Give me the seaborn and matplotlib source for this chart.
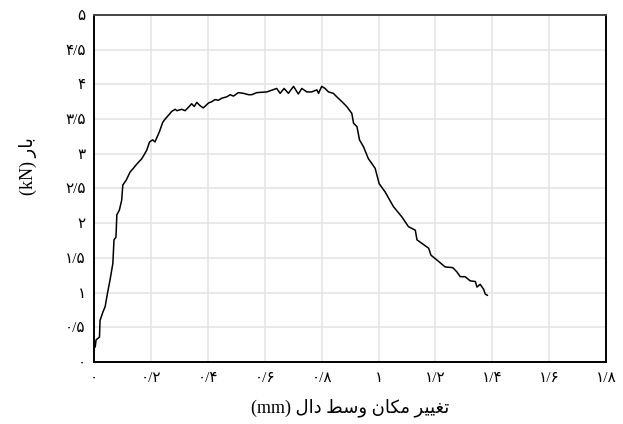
import matplotlib
matplotlib.use("Agg")
import matplotlib.pyplot as plt
import seaborn as sns
import pandas as pd

# Mid-span displacement (mm) and load (kN) of the slab test
displacement = [
    0.000, 0.004, 0.007, 0.019, 0.021, 0.031, 0.039, 0.047, 0.056, 0.066,
    0.070, 0.077, 0.080, 0.089, 0.097, 0.101, 0.113, 0.127, 0.138, 0.150,
    0.168, 0.185, 0.195, 0.206, 0.214, 0.230, 0.241, 0.250, 0.267, 0.273,
    0.285, 0.291, 0.308, 0.320, 0.332, 0.343, 0.352, 0.361, 0.373, 0.384,
    0.402, 0.414, 0.425, 0.437, 0.449, 0.467, 0.478, 0.490, 0.507, 0.525,
    0.543, 0.554, 0.572, 0.607, 0.642, 0.654, 0.668, 0.683, 0.701, 0.718,
    0.730, 0.748, 0.765, 0.783, 0.789, 0.800, 0.812, 0.824, 0.841, 0.853,
    0.871, 0.888, 0.906, 0.912, 0.924, 0.933, 0.947, 0.964, 0.988, 1.002,
    1.023, 1.052, 1.082, 1.105, 1.129, 1.135, 1.152, 1.176, 1.184, 1.205,
    1.234, 1.261, 1.275, 1.287, 1.304, 1.322, 1.340, 1.346, 1.357, 1.369,
    1.375, 1.383,
]
load = [
    0.20, 0.22, 0.32, 0.36, 0.60, 0.72, 0.80, 0.99, 1.18, 1.42,
    1.76, 1.80, 2.12, 2.19, 2.33, 2.55, 2.62, 2.74, 2.79, 2.85,
    2.93, 3.05, 3.17, 3.20, 3.17, 3.32, 3.45, 3.50, 3.58, 3.61,
    3.64, 3.62, 3.64, 3.62, 3.67, 3.72, 3.68, 3.74, 3.69, 3.66,
    3.73, 3.75, 3.78, 3.77, 3.80, 3.82, 3.85, 3.83, 3.88, 3.87,
    3.85, 3.85, 3.88, 3.89, 3.94, 3.87, 3.94, 3.87, 3.97, 3.86,
    3.94, 3.89, 3.89, 3.92, 3.87, 3.97, 3.94, 3.89, 3.87, 3.82,
    3.75, 3.68, 3.58, 3.44, 3.39, 3.20, 3.10, 2.93, 2.79, 2.57,
    2.45, 2.24, 2.09, 1.95, 1.90, 1.76, 1.71, 1.64, 1.54, 1.47,
    1.37, 1.36, 1.30, 1.23, 1.23, 1.17, 1.16, 1.08, 1.12, 1.05,
    0.98, 0.96,
]

x_ticks = [0.0, 0.2, 0.4, 0.6, 0.8, 1.0, 1.2, 1.4, 1.6, 1.8]
x_tick_labels = ["۰", "۰/۲", "۰/۴", "۰/۶", "۰/۸", "۱", "۱/۲", "۱/۴", "۱/۶", "۱/۸"]
y_ticks = [0.0, 0.5, 1.0, 1.5, 2.0, 2.5, 3.0, 3.5, 4.0, 4.5, 5.0]
y_tick_labels = ["۰", "۰/۵", "۱", "۱/۵", "۲", "۲/۵", "۳", "۳/۵", "۴", "۴/۵", "۵"]

# Axis titles: Arabic presentation forms laid out left to right
# (matplotlib draws glyphs in string order, without bidi or shaping)
w_taghyir = "\uFEAE\uFEF4\uFEF4\uFED0\uFE97"   # تغییر
w_makan = "\uFEE5\uFE8E\uFB91\uFEE3"           # مکان
w_vasat = "\uFEC2\uFEB3\uFEED"                 # وسط
w_dal = "\uFEDD\uFE8D\uFEA9"                   # دال
w_bar = "\uFEAD\uFE8E\uFE91"                   # بار
x_title = "(mm) " + " ".join([w_dal, w_vasat, w_makan, w_taghyir])
y_title = "(kN) " + w_bar

sns.set_theme(style="whitegrid")
fonts = ["Liberation Serif", "DejaVu Sans"]
plt.rcParams["font.family"] = fonts

df = pd.DataFrame({"disp": displacement, "load": load})

fig = plt.figure(figsize=(6.23, 4.24), dpi=100)
ax = fig.add_axes([0.151, 0.146, 0.822, 0.819])

sns.lineplot(data=df, x="disp", y="load", sort=False, estimator=None,
             color="black", linewidth=1.1, ax=ax)

ax.set_xlim(0, 1.8)
ax.set_ylim(0, 5)
ax.set_xticks(x_ticks)
ax.set_xticklabels(x_tick_labels, fontsize=11)
ax.set_yticks(y_ticks)
ax.set_yticklabels(y_tick_labels, fontsize=11)
ax.tick_params(axis="x", length=0, pad=7, colors="black")
ax.tick_params(axis="y", length=0, pad=6, colors="black")

ax.grid(True, color="#e3e3e3", linewidth=1.1)
for side in ["left", "bottom", "right"]:
    ax.spines[side].set_color("black")
    ax.spines[side].set_linewidth(1.4)
ax.spines["top"].set_color("#444444")
ax.spines["top"].set_linewidth(1.4)

ax.set_xlabel(x_title, fontsize=13, color="black")
ax.set_ylabel(y_title, fontsize=13, color="black")
ax.xaxis.set_label_coords(0.5, -0.105)
ax.yaxis.set_label_coords(-0.111, 0.565)

fig.savefig("out.png", dpi=100, facecolor="white")
